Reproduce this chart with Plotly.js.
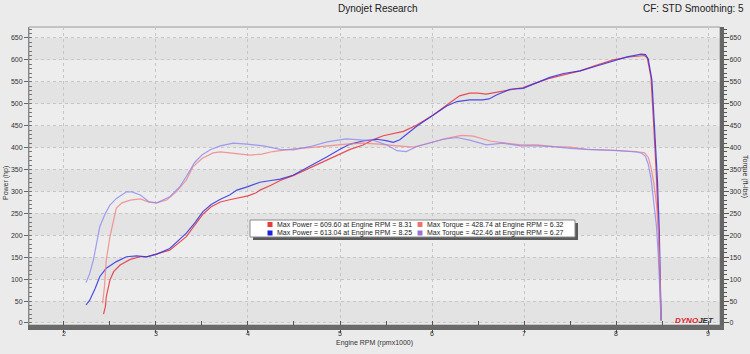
<!DOCTYPE html>
<html><head><meta charset="utf-8">
<script src="https://cdn.plot.ly/plotly-3.0.1.min.js"></script>
<style>html,body{margin:0;padding:0;background:#ebebeb;}#chart{width:750px;height:354px;}</style>
</head><body><div id="chart"></div>
<script>
// ---- data ----
const rpmPower1 = [2.43,2.45,2.46,2.50,2.54,2.61,2.72,2.83,2.90,3.01,3.15,3.33,3.42,3.51,3.60,3.70,3.80,3.88,4.00,4.09,4.13,4.25,4.35,4.49,4.67,4.86,5.00,5.11,5.25,5.35,5.47,5.58,5.69,5.83,6.01,6.16,6.30,6.41,6.50,6.59,6.74,6.85,6.99,7.14,7.28,7.43,7.61,7.79,7.97,8.12,8.22,8.31,8.34,8.38,8.41,8.44,8.46,8.48,8.49];
const hpPower1 = [20,37,60,98,117,132,145,151,151,157,166,197,222,248,265,276,281,284,290,297,303,314,325,336,353,372,385,396,406,417,427,432,437,451,474,497,518,524,524,522,528,533,537,548,558,566,575,588,600,606,608,610,604,560,450,330,215,100,5];

const rpmPower2 = [2.24,2.28,2.34,2.39,2.46,2.57,2.68,2.79,2.90,3.01,3.15,3.33,3.42,3.51,3.60,3.70,3.80,3.88,4.00,4.09,4.13,4.25,4.35,4.49,4.67,4.86,5.00,5.11,5.25,5.40,5.50,5.58,5.65,5.72,5.83,6.01,6.16,6.27,6.41,6.55,6.62,6.70,6.85,6.99,7.14,7.28,7.43,7.61,7.79,7.97,8.12,8.22,8.27,8.32,8.35,8.39,8.42,8.45,8.47,8.48,8.49];
const hpPower2 = [41,52,79,106,125,140,151,153,151,157,170,205,228,254,270,282,292,303,311,319,321,325,328,337,357,379,396,408,415,419,416,412,418,430,448,474,495,505,509,509,511,520,533,535,547,560,569,575,586,598,607,611,613,612,602,554,440,326,212,98,7];

const rpmTorque1 = [2.42,2.44,2.46,2.50,2.54,2.57,2.63,2.72,2.83,2.93,3.01,3.12,3.22,3.33,3.40,3.50,3.62,3.70,3.80,3.90,4.02,4.15,4.27,4.35,4.49,4.67,4.86,5.07,5.25,5.43,5.62,5.80,5.98,6.16,6.32,6.45,6.63,6.77,6.96,7.14,7.32,7.50,7.68,7.86,8.04,8.22,8.31,8.35,8.38,8.41,8.44,8.46,8.48,8.49];
const tqTorque1 = [45,83,144,197,235,262,274,280,283,275,274,281,299,326,356,375,388,390,388,385,383,385,391,393,397,400,404,408,410,408,404,401,411,421,428,426,415,411,406,406,402,401,396,395,393,391,388,378,355,320,270,212,98,5];

const rpmTorque2 = [2.24,2.28,2.32,2.36,2.39,2.45,2.50,2.57,2.68,2.74,2.83,2.92,3.01,3.15,3.26,3.33,3.42,3.50,3.59,3.70,3.84,3.99,4.17,4.35,4.49,4.67,4.86,5.07,5.25,5.36,5.51,5.62,5.72,5.83,5.98,6.12,6.27,6.41,6.59,6.77,6.96,7.14,7.32,7.50,7.68,7.86,8.04,8.22,8.28,8.32,8.35,8.38,8.41,8.44,8.46,8.48,8.49];
const tqTorque2 = [92,113,144,189,220,250,269,284,299,299,292,277,274,288,311,334,366,383,395,404,410,408,404,396,395,402,413,420,417,417,406,393,391,402,411,419,423,417,406,410,404,404,402,398,396,395,393,390,387,380,362,330,280,220,150,60,5];

const legendLabels = [
  "Max Power = 609.60 at Engine RPM = 8.31",
  "Max Torque = 428.74 at Engine RPM = 6.32",
  "Max Power = 613.04 at Engine RPM = 8.25",
  "Max Torque = 422.46 at Engine RPM = 6.27"
];
const xTicks = [2,3,4,5,6,7,8,9];

// ---- styling / layout ----
const FONT = "'Liberation Sans','Arial',sans-serif";
const colRed = 'rgba(232,52,56,0.85)';
const colBlue = 'rgba(48,48,228,0.85)';
const colLRed = 'rgba(242,128,130,0.8)';
const colPurple = 'rgba(140,135,240,0.8)';

const traces = [
  {x: rpmTorque1, y: tqTorque1, mode:'lines', line:{color:colLRed, width:1.2}, yaxis:'y2', hoverinfo:'skip'},
  {x: rpmTorque2, y: tqTorque2, mode:'lines', line:{color:colPurple, width:1.2}, yaxis:'y2', hoverinfo:'skip'},
  {x: rpmPower1, y: hpPower1, mode:'lines', line:{color:colRed, width:1.2}, hoverinfo:'skip'},
  {x: rpmPower2, y: hpPower2, mode:'lines', line:{color:colBlue, width:1.2}, hoverinfo:'skip'}
];

const L = 29, R = 30, T = 27, B = 29, W = 750, H = 354;
const PW = W - L - R, PH = H - T - B;
const px = v => (v - L) / PW;
const py = v => (H - B - v) / PH;
const yr = [-4.6, 675];

const shapes = [];
for (let b = 0; b < 650; b += 100) {
  shapes.push({type:'rect', xref:'paper', yref:'y', x0:0, x1:1, y0:b, y1:b+50, fillcolor:'rgba(0,0,0,0.04)', line:{width:0}, layer:'below'});
}
shapes.push({type:'rect', xref:'paper', yref:'paper', x0:0, x1:1, y0:0, y1:1, line:{color:'#9a9a9a', width:1}, layer:'below'});
shapes.push({type:'rect', xref:'paper', yref:'paper', x0:px(253), x1:px(578), y0:py(240), y1:py(223), fillcolor:'#5a5a5a', line:{width:0}});
shapes.push({type:'rect', xref:'paper', yref:'paper', x0:px(250), x1:px(575), y0:py(237), y1:py(220), fillcolor:'#ffffff', line:{color:'#8a8a8a', width:1}});
const sqCols = ['#e63c3c','#ee7272','#1f1fdc','#9a70d4'];
const sqX = [270, 420, 270, 420];
const sqY = [224.5, 224.5, 233, 233];
for (let i = 0; i < 4; i++) {
  shapes.push({type:'rect', xref:'paper', yref:'paper', x0:px(sqX[i]-2.5), x1:px(sqX[i]+2.5), y0:py(sqY[i]+2.5), y1:py(sqY[i]-2.5), fillcolor:sqCols[i], line:{width:0}});
}

const annotations = [];
for (let i = 0; i < 4; i++) {
  annotations.push({xref:'paper', yref:'paper', x:px(sqX[i]+4.5), y:py(sqY[i]), xanchor:'left', yanchor:'middle', showarrow:false, text:legendLabels[i], font:{family:FONT, size:7, color:'#222'}});
}
annotations.push({xref:'paper', yref:'paper', x:px(377), y:py(9), xanchor:'center', yanchor:'middle', showarrow:false, text:'Dynojet Research', font:{family:FONT, size:10, color:'#222'}});
annotations.push({xref:'paper', yref:'paper', x:px(746), y:py(9), xanchor:'right', yanchor:'middle', showarrow:false, text:'CF: STD Smoothing: 5', font:{family:FONT, size:10, color:'#222'}});
annotations.push({xref:'paper', yref:'paper', x:px(6), y:py(183), xanchor:'center', yanchor:'middle', textangle:-90, showarrow:false, text:'Power (hp)', font:{family:FONT, size:7, color:'#333'}});
annotations.push({xref:'paper', yref:'paper', x:px(745), y:py(176), xanchor:'center', yanchor:'middle', textangle:90, showarrow:false, text:'Torque (ft-lbs)', font:{family:FONT, size:7, color:'#333'}});
annotations.push({xref:'paper', yref:'paper', x:px(374), y:py(343), xanchor:'center', yanchor:'middle', showarrow:false, text:'Engine RPM (rpmx1000)', font:{family:FONT, size:7, color:'#333'}});
annotations.push({xref:'paper', yref:'paper', x:px(716), y:py(320.5), xanchor:'right', yanchor:'middle', showarrow:false, text:'<b><i><span style="color:#e0202a">DYNO</span><span style="color:#333">JET</span></i></b>', font:{family:FONT, size:8}});

const tickFont = {family:FONT, size:7, color:'#333'};
const layout = {
  width: W, height: H,
  margin: {l:L, r:R, t:T, b:B, pad:0},
  paper_bgcolor: '#ebebeb',
  plot_bgcolor: '#ededed',
  showlegend: false,
  xaxis: {
    range:[1.62, 9.13], tickvals: xTicks, ticktext: xTicks.map(String), tickfont: tickFont,
    ticks:'outside', ticklen:3, tickcolor:'#555', ticklabelstandoff:-5,
    minor:{dtick:0.5, tick0:0, ticks:'inside', ticklen:4, tickcolor:'#555', showgrid:false},
    showgrid:true, gridcolor:'#c6c6c6', griddash:'dot', gridwidth:1,
    showline:true, linecolor:'#6a6a6a', linewidth:5, zeroline:false
  },
  yaxis: {
    range: yr, tick0:0, dtick:50, tickfont: tickFont,
    ticks:'outside', ticklen:4, tickcolor:'#666',
    minor:{dtick:10, tick0:0, ticks:'inside', ticklen:3, tickcolor:'#777', showgrid:false},
    showgrid:true, gridcolor:'#c6c6c6', griddash:'dot', gridwidth:1,
    showline:true, linecolor:'#888', linewidth:1, zeroline:false
  },
  yaxis2: {
    range: yr, tick0:0, dtick:50, tickfont: tickFont, overlaying:'y', side:'right',
    ticks:'outside', ticklen:5, tickcolor:'#555', ticklabelstandoff:-1,
    minor:{dtick:10, tick0:0, ticks:'outside', ticklen:3, tickcolor:'#555', showgrid:false},
    showgrid:false, showline:true, linecolor:'#666', linewidth:4, zeroline:false
  },
  shapes: shapes,
  annotations: annotations
};

Plotly.newPlot('chart', traces, layout, {staticPlot:true, displayModeBar:false});
</script>
</body></html>
